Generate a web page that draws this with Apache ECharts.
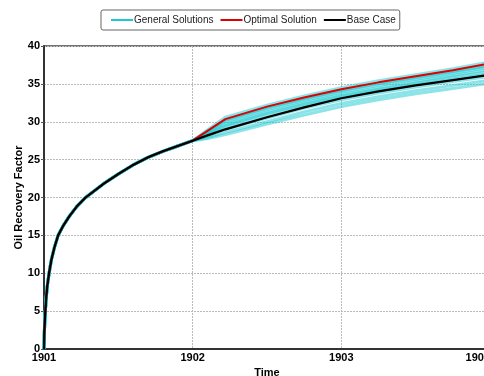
<!DOCTYPE html>
<html>
<head>
<meta charset="utf-8">
<script src="https://cdn.jsdelivr.net/npm/echarts@6/dist/echarts.min.js"></script>
<style>
  html, body { margin: 0; padding: 0; background: #fff; }
  #main { width: 484px; height: 376px; }
</style>
</head>
<body>
<div id="main"></div>
<script>
var myChart = echarts.init(document.getElementById('main'));

// history (shared by every case)
var historyTime = [1901, 1901.002, 1901.005, 1901.009, 1901.015, 1901.022, 1901.034, 1901.05, 1901.07, 1901.095,
    1901.13, 1901.17, 1901.22, 1901.28, 1901.4, 1901.5, 1901.6, 1901.7, 1901.8, 1901.9, 1902];
var historyValues = [0, 2, 3.5, 5, 6.8, 8.3, 10, 11.8, 13.4, 15,
    16.3, 17.5, 18.8, 20, 21.8, 23.1, 24.3, 25.3, 26.1, 26.8, 27.5];

// forecast
var forecastTime = [1902.1, 1902.22, 1902.5, 1902.75, 1903, 1903.25, 1903.5, 1903.75, 1904];
var baseCase = [28.2, 29.0, 30.6, 31.9, 33.1, 34.0, 34.8, 35.5, 36.2];
var optimal = [28.8, 30.35, 32.0, 33.2, 34.3, 35.2, 36.0, 36.8, 37.7];
var general = [
    [28.9, 30.6, 32.2, 33.4, 34.5, 35.4, 36.2, 37.0, 37.9],
    [28.8, 30.3, 31.9, 33.1, 34.2, 35.1, 35.9, 36.7, 37.5],
    [28.7, 30.2, 31.8, 33.0, 34.1, 35.0, 35.8, 36.6, 37.4],
    [28.6, 30.0, 31.6, 32.8, 33.9, 34.8, 35.6, 36.4, 37.2],
    [28.5, 29.7, 31.3, 32.5, 33.6, 34.5, 35.3, 36.1, 36.9],
    [28.4, 29.5, 31.1, 32.3, 33.4, 34.3, 35.1, 35.9, 36.6],
    [28.3, 29.3, 30.9, 32.1, 33.2, 34.1, 34.9, 35.6, 36.3],
    [28.1, 29.0, 30.5, 31.8, 32.9, 33.8, 34.6, 35.3, 36.0],
    [27.9, 28.6, 30.0, 31.3, 32.4, 33.3, 34.1, 34.8, 35.5],
    [27.8, 28.3, 29.7, 30.9, 32.0, 32.9, 33.7, 34.4, 35.1]
];

function toPairs(forecast) {
    var pts = historyTime.map(function (t, i) { return [t, historyValues[i]]; });
    forecastTime.forEach(function (t, i) { pts.push([t, forecast[i]]); });
    return pts;
}

var series = general.map(function (g) {
    return {
        name: 'General Solutions',
        type: 'line',
        symbol: 'none',
        color: '#1cc9d2',
        lineStyle: { width: 3, color: 'rgba(28,201,210,0.5)' },
        data: toPairs(g),
        silent: true
    };
});
series.push({
    name: 'Optimal Solution',
    type: 'line',
    symbol: 'none',
    color: '#e00000',
    lineStyle: { width: 2, color: '#e00000' },
    data: toPairs(optimal)
});
series.push({
    name: 'Base Case',
    type: 'line',
    symbol: 'none',
    color: '#000',
    lineStyle: { width: 2.2, color: '#000' },
    data: toPairs(baseCase)
});

var labelFont = { color: '#000', fontWeight: 'bold', fontSize: 11, fontFamily: 'Liberation Sans, Arial' };

var option = {
    animation: false,
    legend: {
        data: ['General Solutions', 'Optimal Solution', 'Base Case'],
        top: 10,
        left: 101,
        icon: 'rect',
        itemWidth: 22,
        itemHeight: 2,
        itemGap: 7,
        padding: [5, 4, 5, 10],
        borderColor: '#666',
        borderWidth: 1,
        borderRadius: 2,
        textStyle: { color: '#222', fontSize: 10, fontFamily: 'Liberation Sans, Arial', padding: [0, 0, 0, -4] }
    },
    grid: {
        left: 44,
        right: -6,
        top: 46,
        bottom: 27,
        outerBoundsMode: 'none',
        containLabel: false,
        show: true,
        borderColor: '#444',
        borderWidth: 1.5
    },
    xAxis: {
        type: 'value',
        min: 1901,
        max: 1904,
        interval: 1,
        name: 'Time',
        nameLocation: 'middle',
        nameGap: 18,
        nameMoveOverlap: false,
        nameTextStyle: { color: '#000', fontWeight: 'bold', fontSize: 11, fontFamily: 'Liberation Sans, Arial' },
        axisLine: { lineStyle: { color: '#333', width: 2 } },
        axisTick: { show: false },
        axisLabel: Object.assign({ margin: 3, alignMaxLabel: 'right', formatter: function (v) { return String(v); } }, labelFont),
        splitLine: { show: true, lineStyle: { color: '#bbb', type: [2, 1], width: 1 } }
    },
    yAxis: {
        type: 'value',
        min: 0,
        max: 40,
        interval: 5,
        name: 'Oil Recovery Factor',
        nameLocation: 'middle',
        nameGap: 20,
        nameMoveOverlap: false,
        nameTextStyle: { color: '#000', fontWeight: 'bold', fontSize: 11, fontFamily: 'Liberation Sans, Arial' },
        axisLine: { show: true, lineStyle: { color: '#333', width: 2 } },
        axisTick: { show: true, length: 3, lineStyle: { color: '#555' } },
        axisLabel: Object.assign({ margin: 4 }, labelFont),
        splitLine: { show: true, lineStyle: { color: '#bbb', type: [2, 1], width: 1 } }
    },
    series: series
};
myChart.setOption(option);
</script>
</body>
</html>
